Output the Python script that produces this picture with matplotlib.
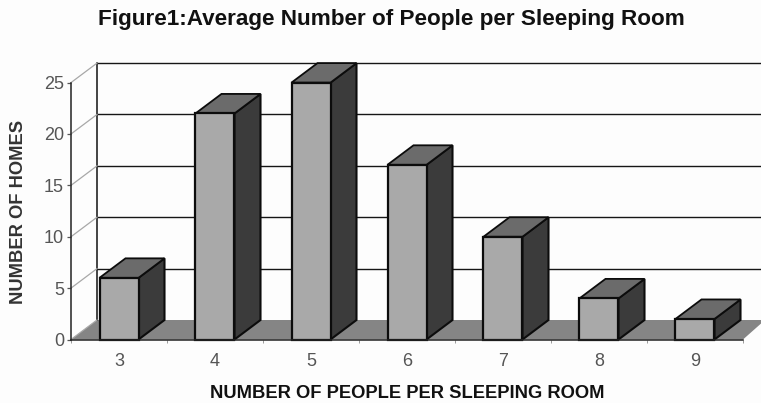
import matplotlib
matplotlib.use("Agg")
import matplotlib.pyplot as plt
from matplotlib.patches import Polygon

plt.rcParams['font.family'] = ['Liberation Sans', 'DejaVu Sans']

categories = [3, 4, 5, 6, 7, 8, 9]
homes = [6, 22, 25, 17, 10, 4, 2]
y_ticks = [0, 5, 10, 15, 20, 25]

W, H = 761, 403
L, R, T, B = 71, 743, 82.6, 339.5
fig = plt.figure(figsize=(W / 100, H / 100), dpi=100, facecolor='#fdfdfd')
ax = fig.add_axes([L / W, 1 - B / H, (R - L) / W, (B - T) / H])
ax.set_facecolor('none')
ax.set_xlim(2.5, 9.5)
ax.set_ylim(0, 25)

# 3-D depth offset, in data units
DX = 26 / ((R - L) / 7)
DY = 19.5 / ((B - T) / 25)
BW = 39 / ((R - L) / 7)
x0, x1 = 2.5, 9.5
right_edge = x0 + (W + 4 - L) / ((R - L) / 7)

# floor
ax.add_patch(Polygon([(x0, 0), (x0 + DX, DY), (right_edge, DY), (x1, 0)],
                     closed=True, fc='#858585', ec='none', zorder=1, clip_on=False))
# back wall + gridlines + slanted side-wall lines
ax.plot([x0 + DX, x0 + DX], [DY, 25 + DY], color='#111111', lw=1.1, zorder=2, clip_on=False)
for v in y_ticks:
    if v > 0:
        ax.plot([x0 + DX, right_edge], [v + DY, v + DY], color='#161616', lw=1.0, zorder=2, clip_on=False)
    ax.plot([x0, x0 + DX], [v, v + DY], color='#a8a8a8', lw=0.9, zorder=2, clip_on=False)

# bars
for c, v in zip(categories, homes):
    a, b = c - BW / 2, c + BW / 2
    ax.add_patch(Polygon([(b, 0), (b + DX, DY), (b + DX, v + DY), (b, v)], closed=True,
                         fc='#3b3b3b', ec='#0c0c0c', lw=1.5, zorder=3, clip_on=False))
    ax.add_patch(Polygon([(a, v), (a + DX, v + DY), (b + DX, v + DY), (b, v)], closed=True,
                         fc='#6b6b6b', ec='#0c0c0c', lw=1.3, zorder=3, clip_on=False))
ax.bar(categories, homes, width=BW, color='#a9a9a9', edgecolor='#0c0c0c', linewidth=1.6,
       zorder=4, clip_on=False)

for s in ['top', 'right']:
    ax.spines[s].set_visible(False)
for s in ['left', 'bottom']:
    ax.spines[s].set_color('#222222')
    ax.spines[s].set_linewidth(1.1)
    ax.spines[s].set_zorder(5)

ax.set_xticks(categories)
ax.set_xticklabels([str(c) for c in categories], fontsize=13, color='#555555')
ax.set_xticks([x0 + i for i in range(8)], minor=True)
ax.tick_params(axis='x', which='major', length=0, pad=10)
ax.tick_params(axis='x', which='minor', length=2.5, width=0.7, color='#999999')
ax.set_yticks(y_ticks)
ax.set_yticklabels([str(v) for v in y_ticks], fontsize=13, color='#555555')
ax.tick_params(axis='y', length=3, width=0.9, color='#555555', pad=2)

fig.text(391.5 / W, 1 - 24.5 / H, 'Figure1:Average Number of People per Sleeping Room',
         ha='center', va='baseline', fontsize=16.2, fontweight='bold', color='#111111')
fig.text(407 / W, 1 - 398 / H, 'NUMBER OF PEOPLE PER SLEEPING ROOM',
         ha='center', va='baseline', fontsize=13.2, fontweight='bold', color='#111111')
fig.text(19 / W, 1 - 211.5 / H, 'NUMBER OF HOMES', rotation=90,
         ha='center', va='center', fontsize=13.2, fontweight='bold', color='#333333')

fig.savefig('out.png', dpi=100, facecolor=fig.get_facecolor())
